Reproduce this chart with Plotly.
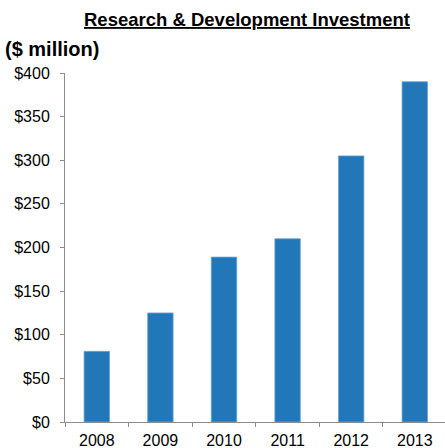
import plotly.graph_objects as go

# R&D investment by year, in $ million
years = ["2008", "2009", "2010", "2011", "2012", "2013"]
investment = [81, 125, 189, 210, 305, 390]

y_ticks = [0, 50, 100, 150, 200, 250, 300, 350, 400]
y_tick_labels = ["$0", "$50", "$100", "$150", "$200", "$250", "$300", "$350", "$400"]

bar_color = "#2277B9"
axis_color = "#8C8C8C"
font_family = "Liberation Sans, Arial, sans-serif"

fig = go.Figure(
    go.Bar(
        x=years,
        y=investment,
        marker=dict(color=bar_color, line=dict(color="#6FA3D3", width=0.8)),
        width=0.4,
    )
)

fig.update_layout(
    width=445,
    height=448,
    margin=dict(l=65, r=0, t=73, b=26),
    paper_bgcolor="white",
    plot_bgcolor="white",
    showlegend=False,
    font=dict(family=font_family, color="#000000", size=16),
    xaxis=dict(
        type="category",
        range=[-0.5, 5.475],
        showgrid=False,
        showline=True,
        linecolor=axis_color,
        linewidth=1,
        ticks="outside",
        tickson="boundaries",
        ticklen=4,
        tickcolor=axis_color,
        tickfont=dict(size=16),
        ticklabelstandoff=4,
        automargin=False,
        zeroline=False,
    ),
    yaxis=dict(
        range=[0, 400],
        tickmode="array",
        tickvals=y_ticks,
        ticktext=y_tick_labels,
        showgrid=False,
        showline=True,
        linecolor=axis_color,
        linewidth=1,
        ticks="outside",
        ticklen=4,
        tickcolor=axis_color,
        tickfont=dict(size=16),
        ticklabelstandoff=7,
        automargin=False,
        zeroline=False,
    ),
    annotations=[
        dict(
            text="<b><u>Research & Development Investment</u></b>",
            xref="paper", yref="paper",
            x=0.478, y=(421.7 - 20) / 348.4,
            xanchor="center", yanchor="middle",
            showarrow=False,
            font=dict(size=18.5, family=font_family, color="#000000"),
        ),
        dict(
            text="<b>($ million)</b>",
            xref="paper", yref="paper",
            x=(3 - 65) / 380, y=(421.7 - 49) / 348.4,
            xanchor="left", yanchor="middle",
            showarrow=False,
            font=dict(size=20, family=font_family, color="#000000"),
        ),
    ],
)

fig.write_html("out.html")
